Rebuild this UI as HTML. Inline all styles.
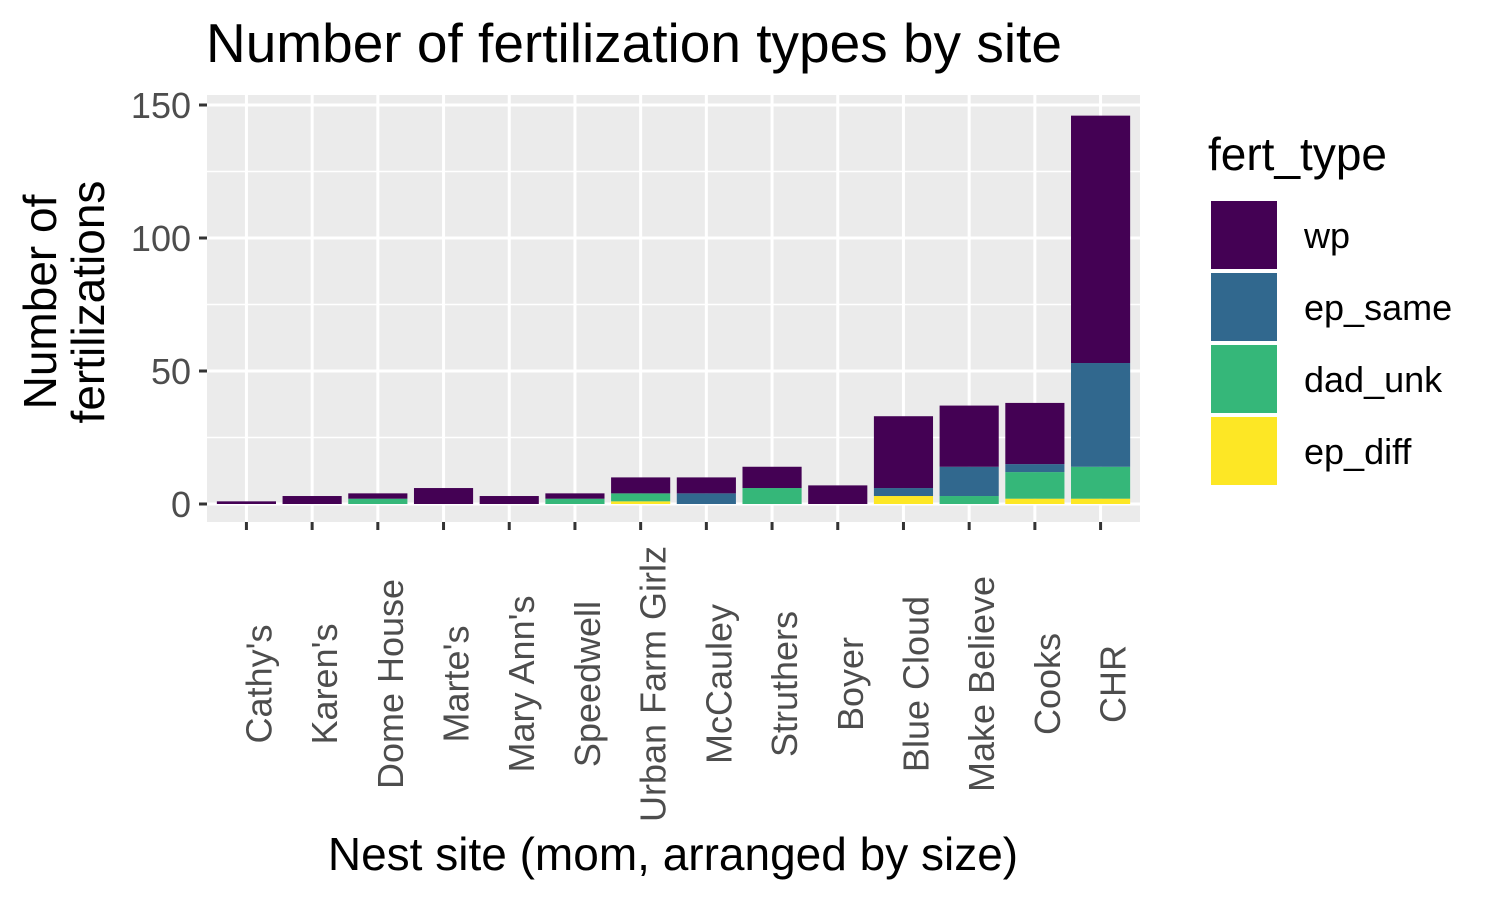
<!DOCTYPE html>
<html><head><meta charset="utf-8"><style>body{margin:0;background:#fff}svg{display:block;font-family:"Liberation Sans",Arial,sans-serif}</style></head>
<body>
<svg id="chart" width="1500" height="900" viewBox="0 0 1500 900">
<text x="206" y="62" font-size="55" fill="#000">Number of fertilization types by site</text>
<rect x="207" y="95" width="933" height="427" fill="#EBEBEB"/>
<g id="grid"></g><g id="bars"></g><g id="axes"></g>
<text transform="translate(56,302) rotate(-90)" text-anchor="middle" font-size="46"><tspan x="0" dy="0">Number of</tspan><tspan x="0" dy="48">fertilizations</tspan></text>
<text x="673" y="870" text-anchor="middle" font-size="46">Nest site (mom, arranged by size)</text>
<g id="legend"><text x="1208" y="170" font-size="46">fert_type</text></g>
</svg>
<script>
const categories=["Cathy's","Karen's","Dome House","Marte's","Mary Ann's","Speedwell","Urban Farm Girlz","McCauley","Struthers","Boyer","Blue Cloud","Make Believe","Cooks","CHR"];
const epDiff=[0,0,0,0,0,0,1,0,0,0,3,0,2,2];
const dadUnk=[0,0,2,0,0,2,3,0,6,0,0,3,10,12];
const epSame=[0,0,0,0,0,0,0,4,0,0,3,11,3,39];
const wp=[1,3,2,6,3,2,6,6,8,7,27,23,23,93];
const yTicks=[0,50,100,150];
const seriesNames=["ep_diff","dad_unk","ep_same","wp"];
const colors={wp:"#440154",ep_same:"#31688E",dad_unk:"#35B779",ep_diff:"#FDE725"};
const series={ep_diff:epDiff,dad_unk:dadUnk,ep_same:epSame,wp:wp};
const NS="http://www.w3.org/2000/svg";
const X0=207,X1=1140,Y0=504,PPU=(504-105)/150;
const step=(X1-X0)/(categories.length+0.2);
const xPos=i=>X0+step*(0.6+i);
const yPos=v=>Y0-v*PPU;
const bw=step*0.9;
function mk(tag,attrs,parent){const e=document.createElementNS(NS,tag);for(const k in attrs)e.setAttribute(k,attrs[k]);parent.appendChild(e);return e;}
const grid=document.getElementById('grid'),bars=document.getElementById('bars'),axes=document.getElementById('axes'),legend=document.getElementById('legend');
for(let i=0;i<yTicks.length-1;i++){const l=mk('line',{x1:X0,x2:X1,y1:yPos((yTicks[i]+yTicks[i+1])/2),y2:yPos((yTicks[i]+yTicks[i+1])/2),stroke:'#fff','stroke-width':1.5},grid);

}
yTicks.forEach(t=>{const l=mk('line',{x1:X0,x2:X1,y1:yPos(t),y2:yPos(t),stroke:'#fff','stroke-width':3},grid);


const tk=mk('line',{x1:X0-8,x2:X0,y1:yPos(t),y2:yPos(t),stroke:'#333','stroke-width':3},axes);


const tx=mk('text',{x:X0-16,y:yPos(t)+13,'text-anchor':'end','font-size':36,fill:'#4D4D4D'},axes);tx.textContent=t;

});
categories.forEach((c,i)=>{const x=xPos(i);
const l=mk('line',{x1:x,x2:x,y1:95,y2:522,stroke:'#fff','stroke-width':3},grid);


let cum=0;
seriesNames.forEach(s=>{const v=series[s][i];if(v>0){const r=mk('rect',{x:x-bw/2,y:yPos(cum+v),width:bw,height:v*PPU,fill:colors[s]},bars);

}cum+=v;});
const tk=mk('line',{x1:x,x2:x,y1:522,y2:530,stroke:'#333','stroke-width':3},axes);


const tx=mk('text',{transform:`translate(${x+25},${684}) rotate(-90)`,'text-anchor':'middle','font-size':36,fill:'#4D4D4D'},axes);tx.textContent=c;

});
["wp","ep_same","dad_unk","ep_diff"].forEach((s,i)=>{const y=200+i*72;
const r=mk('rect',{x:1210,y:y,width:68,height:70,fill:colors[s],stroke:'#fff','stroke-width':2},legend);


const t=mk('text',{x:1304,y:y+48,'font-size':36},legend);t.textContent=s;

});
</script>
</body></html>
